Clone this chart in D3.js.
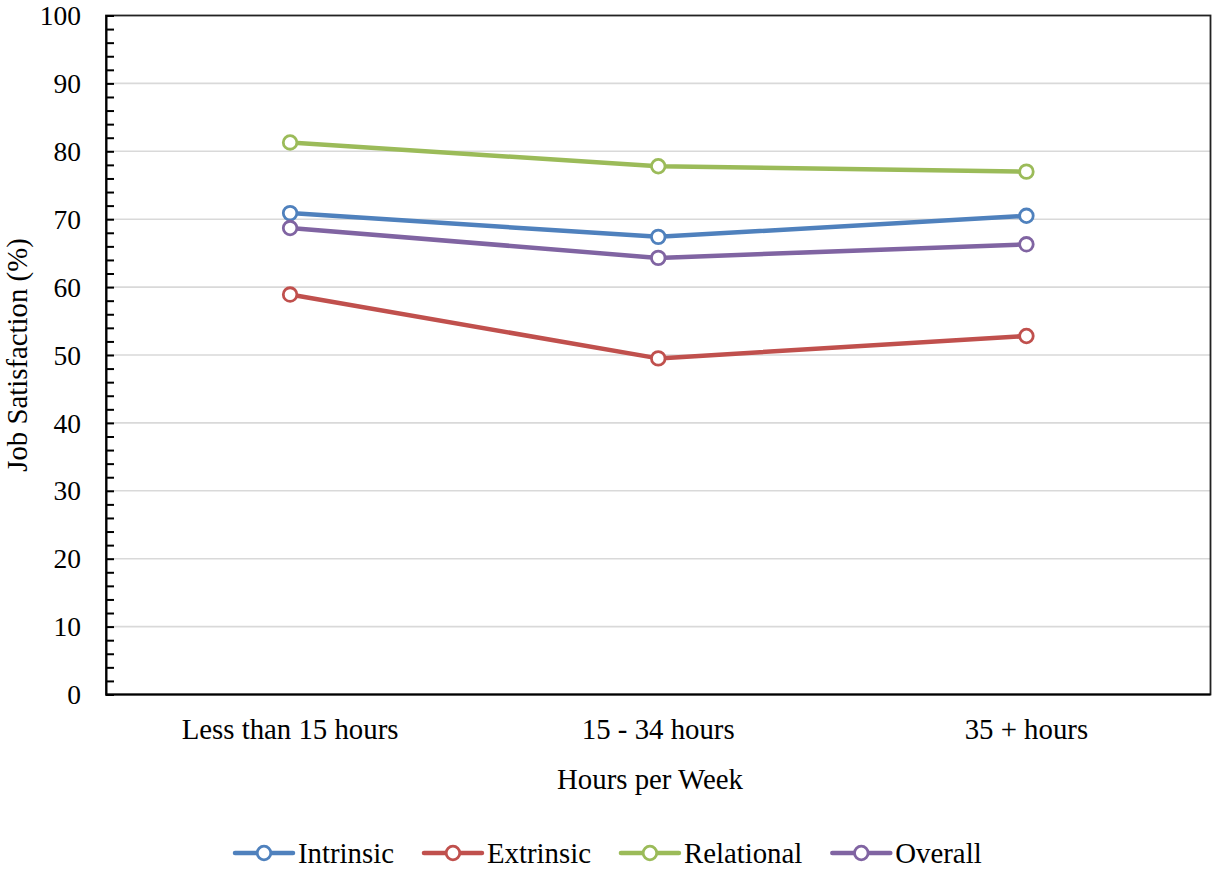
<!DOCTYPE html>
<html>
<head>
<meta charset="utf-8">
<script src="https://cdn.jsdelivr.net/npm/d3@7/dist/d3.min.js"></script>
<style>
  html, body { margin: 0; padding: 0; background: #fff; }
  svg text { font-family: "Liberation Serif", "Times New Roman", "DejaVu Serif", serif; fill: #000; }
</style>
</head>
<body>
<svg id="chart" width="1212" height="870" font-family="Liberation Serif, serif"></svg>
<script>
// Job satisfaction by weekly working hours
const categories = ["Less than 15 hours", "15 - 34 hours", "35 + hours"];
const seriesNames = ["Intrinsic", "Extrinsic", "Relational", "Overall"];
const intrinsic  = [70.9, 67.4, 70.5];
const extrinsic  = [58.9, 49.5, 52.8];
const relational = [81.3, 77.8, 77.0];
const overall    = [68.7, 64.3, 66.3];
const yTicks = [0, 10, 20, 30, 40, 50, 60, 70, 80, 90, 100];
const colors = ["#4F81BD", "#C0504D", "#9BBB59", "#8064A2"];

const seriesValues = [intrinsic, extrinsic, relational, overall];
const FONT = "'Liberation Serif', 'Times New Roman', serif";
const LABEL_SIZE = 28.8;

const svg = d3.select("#chart");
const m = { left: 106, right: 1210.5, top: 15.5, bottom: 694.5 };

const x = d3.scaleBand().domain(categories).range([m.left, m.right]);
const y = d3.scaleLinear().domain([0, 100]).range([m.bottom, m.top]);

// gridlines
svg.append("g").selectAll("line")
  .data(yTicks.filter(t => t > 0 && t < 100))
  .join("line")
  .attr("x1", m.left).attr("x2", m.right)
  .attr("y1", d => y(d)).attr("y2", d => y(d))
  .attr("stroke", "#D9D9D9").attr("stroke-width", 1.6);

// plot frame
svg.append("rect")
  .attr("x", m.left).attr("y", m.top)
  .attr("width", m.right - m.left).attr("height", m.bottom - m.top)
  .attr("fill", "none").attr("stroke", "#222").attr("stroke-width", 1.8);

// y axis: minor ticks every 2, drawn inward
const yAxis = d3.axisRight(y)
  .tickValues(d3.range(0, 101, 2))
  .tickSize(8)
  .tickFormat("");
const ya = svg.append("g").attr("transform", `translate(${m.left},0)`).call(yAxis);
ya.select(".domain").attr("stroke", "#000").attr("stroke-width", 2);
ya.selectAll(".tick line").attr("stroke", "#000").attr("stroke-width", 2);

// y tick labels
svg.append("g").selectAll("text")
  .data(yTicks)
  .join("text")
  .attr("x", 81).attr("y", d => y(d))
  .attr("dy", "0.35em")
  .attr("text-anchor", "end")
  .attr("font-family", FONT)
  .attr("font-size", 27.5)
  .text(d => d);

// bottom axis line
svg.append("line")
  .attr("x1", m.left).attr("x2", m.right)
  .attr("y1", m.bottom).attr("y2", m.bottom)
  .attr("stroke", "#000").attr("stroke-width", 2);

// x tick labels
svg.append("g").selectAll("text")
  .data(categories)
  .join("text")
  .attr("x", d => x(d) + x.bandwidth() / 2)
  .attr("y", 739)
  .attr("text-anchor", "middle")
  .attr("font-family", FONT)
  .attr("font-size", LABEL_SIZE)
  .text(d => d);

// axis titles
svg.append("text")
  .attr("x", 650).attr("y", 789)
  .attr("text-anchor", "middle")
  .attr("font-family", FONT)
  .attr("font-size", LABEL_SIZE)
  .text("Hours per Week");

svg.append("text")
  .attr("transform", `translate(27,${(m.top + m.bottom) / 2}) rotate(-90)`)
  .attr("text-anchor", "middle")
  .attr("font-family", FONT)
  .attr("font-size", LABEL_SIZE)
  .text("Job Satisfaction (%)");

// series lines and markers
const line = d3.line()
  .x((d, i) => x(categories[i]) + x.bandwidth() / 2)
  .y(d => y(d));

seriesValues.forEach((vals, s) => {
  const g = svg.append("g");
  g.append("path")
    .datum(vals)
    .attr("d", line)
    .attr("fill", "none")
    .attr("stroke", colors[s])
    .attr("stroke-width", 4.5)
    .attr("stroke-linejoin", "round")
    .attr("stroke-linecap", "round");
  g.selectAll("circle")
    .data(vals)
    .join("circle")
    .attr("cx", (d, i) => x(categories[i]) + x.bandwidth() / 2)
    .attr("cy", d => y(d))
    .attr("r", 6.8)
    .attr("fill", "#fff")
    .attr("stroke", colors[s])
    .attr("stroke-width", 2.8);
});

// legend
const legend = svg.append("g");
let lx = 235;
const ly = 853;
seriesNames.forEach((name, s) => {
  const item = legend.append("g");
  item.append("line")
    .attr("x1", lx).attr("x2", lx + 58)
    .attr("y1", ly).attr("y2", ly)
    .attr("stroke", colors[s]).attr("stroke-width", 4.5)
    .attr("stroke-linecap", "round");
  item.append("circle")
    .attr("cx", lx + 29).attr("cy", ly).attr("r", 6.8)
    .attr("fill", "#fff").attr("stroke", colors[s]).attr("stroke-width", 2.8);
  const t = item.append("text")
    .attr("x", lx + 63).attr("y", ly + 9.5)
    .attr("font-family", FONT)
    .attr("font-size", LABEL_SIZE)
    .text(name);
  lx += 63 + t.node().getComputedTextLength() + 30;
});
</script>
</body>
</html>
